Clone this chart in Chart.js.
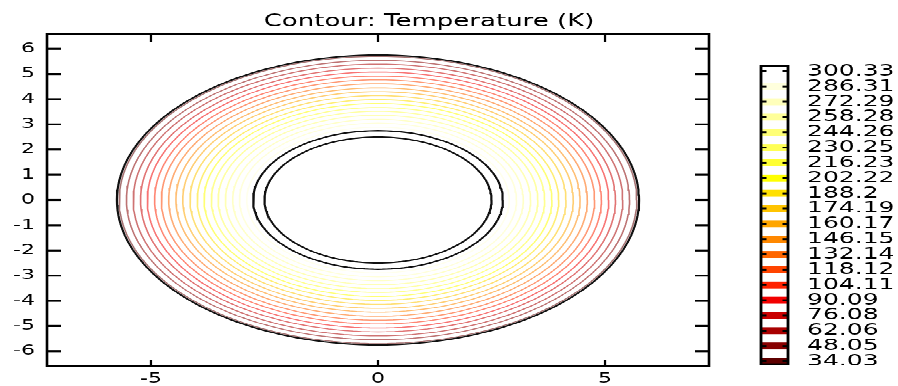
<!DOCTYPE html>
<html><head><meta charset="utf-8">
<script src="https://cdn.jsdelivr.net/npm/chart.js@4.4.1/dist/chart.umd.min.js"></script>
<style>
html,body{margin:0;padding:0;background:#fff;overflow:hidden;}
#wrap{position:relative;width:898px;height:603px;transform:scaleY(0.64);transform-origin:0 0;}
#main{position:absolute;left:0;top:0;}
#cbar{position:absolute;left:740px;top:0;}
</style></head><body>
<div id="wrap"><canvas id="main" width="858" height="603"></canvas><canvas id="cbar" width="158" height="603"></canvas></div>
<script>
// ---- data ----
const chartTitle = 'Contour: Temperature (K)';
const xTicks = [-5, 0, 5];
const yTicks = [-6, -5, -4, -3, -2, -1, 0, 1, 2, 3, 4, 5, 6];
const xRange = [-7.29, 7.29];
const yRange = [-6.59, 6.59];
// contour levels (K), also the colour-bar tick labels
const levels = [34.03, 48.05, 62.06, 76.08, 90.09, 104.11, 118.12, 132.14, 146.15, 160.17,
                174.19, 188.2, 202.22, 216.23, 230.25, 244.26, 258.28, 272.29, 286.31, 300.33];
const levelColors = ['#5e0000', '#870000', '#a80000', '#c90000', '#f20000', '#ff2200', '#ff4400', '#ff6600', '#ff8800', '#ffa600',
                     '#ffc400', '#ffe000', '#ffff00', '#ffff33', '#ffff55', '#ffff77', '#ffff99', '#ffffbb', '#ffffdd', '#ffffff'];
// radius (plot units) at which each level's contour circle lies
const contourRadii = [5.70, 5.54, 5.39, 5.23, 5.08, 4.92, 4.77, 4.61, 4.45, 4.30,
                      4.14, 3.98, 3.83, 3.67, 3.52, 3.36, 3.20, 3.05, 2.89, 2.80];
// black mesh boundary circles
const boundaryRadii = [2.50, 2.75, 5.75];

// ---- helpers ----
const STEP_DEG = 2;
function circle(r) {
  const pts = [];
  for (let a = 0; a <= 360; a += STEP_DEG) {
    const t = a * Math.PI / 180;
    pts.push({x: r * Math.cos(t), y: r * Math.sin(t)});
  }
  return pts;
}
const FONT = 'DejaVu Sans';
// frame round the plot area + inward tick marks placed with the chart's own scales
function makeFrame(cfg) {
  return {
    id: 'frame' + cfg.name,
    afterDraw(chart) {
      const a = chart.chartArea, ctx = chart.ctx;
      ctx.save();
      ctx.setLineDash([]);
      ctx.globalAlpha = 1;
      ctx.fillStyle = '#000';
      if (cfg.yValues) {
        const ys = chart.scales.y, tw = cfg.yTickW;
        for (const v of cfg.yValues) {
          const p = ys.getPixelForValue(v);
          ctx.fillRect(a.left, p - tw / 2, cfg.yLen, tw);
          ctx.fillRect(a.right - cfg.yLen, p - tw / 2, cfg.yLen, tw);
        }
      }
      if (cfg.xValues) {
        const xs = chart.scales.x, tw = cfg.xTickW;
        for (const v of cfg.xValues) {
          const p = xs.getPixelForValue(v);
          ctx.fillRect(p - tw / 2, a.top, tw, cfg.xTopLen);
          ctx.fillRect(p - tw / 2, a.bottom - cfg.xBotLen, tw, cfg.xBotLen);
        }
      }
      ctx.strokeStyle = '#000';
      ctx.lineWidth = cfg.width;
      ctx.strokeRect(a.left, a.top, a.right - a.left, a.bottom - a.top);
      if (cfg.title) {
        ctx.font = cfg.titleFont;
        ctx.textAlign = 'center';
        ctx.textBaseline = 'alphabetic';
        ctx.fillText(cfg.title, cfg.titleX, cfg.titleY);
      }
      ctx.restore();
    }
  };
}

const datasets = [];
boundaryRadii.forEach(r => {
  datasets.push({
    label: 'boundary',
    data: circle(r),
    borderColor: '#111',
    borderWidth: 2.2,
    showLine: true, pointRadius: 0, tension: 0, fill: false
  });
});
levels.forEach((lv, i) => {
  datasets.push({
    label: String(lv),
    data: circle(contourRadii[i]),
    borderColor: levelColors[i] + '8c',
    borderWidth: 1.6,
    showLine: true, pointRadius: 0, tension: 0, fill: false
  });
});

new Chart(document.getElementById('main'), {
  type: 'scatter',
  data: {datasets},
  plugins: [makeFrame({name: 'Main', width: 2.6, yTickW: 3.2, xTickW: 2.2, yValues: yTicks, yLen: 14,
                       xValues: xTicks, xTopLen: 12.5, xBotLen: 10,
                       title: chartTitle, titleFont: '26px "DejaVu Sans"', titleX: 429, titleY: 40.5})],
  options: {
    responsive: false, animation: false, devicePixelRatio: 1,
    layout: {padding: {left: 0, right: 149, top: 53, bottom: 0}},
    plugins: {legend: {display: false}, tooltip: {enabled: false}, title: {display: false}},
    scales: {
      x: {
        type: 'linear', min: xRange[0], max: xRange[1],
        afterBuildTicks: s => { s.ticks = xTicks.map(v => ({value: v})); },
        afterFit: s => { s.height = 31; },
        grid: {display: false, drawTicks: false},
        border: {display: false},
        ticks: {color: '#000', font: {family: FONT, size: 22}, padding: 7, maxRotation: 0, autoSkip: false}
      },
      y: {
        type: 'linear', min: yRange[0], max: yRange[1],
        afterBuildTicks: s => { s.ticks = yTicks.map(v => ({value: v})); },
        afterFit: s => { s.width = 47; },
        grid: {display: false, drawTicks: false},
        border: {display: false},
        ticks: {color: '#000', font: {family: FONT, size: 22}, padding: 12, autoSkip: false}
      }
    }
  }
});

// ---- colour bar ----
const BAND = 3.0; // half height of each colour swatch, in K
new Chart(document.getElementById('cbar'), {
  type: 'bar',
  data: {
    labels: [''],
    datasets: levels.map((lv, i) => ({
      label: String(lv),
      data: [[lv - BAND, lv + BAND]],
      backgroundColor: levelColors[i],
      borderWidth: 0, grouped: false, barPercentage: 1, categoryPercentage: 1
    }))
  },
  plugins: [makeFrame({name: 'Bar', width: 2.8, yTickW: 3, yValues: levels, yLen: 5.5})],
  options: {
    responsive: false, animation: false, devicePixelRatio: 1,
    layout: {padding: {left: 21, right: 0, top: 103, bottom: 34}},
    plugins: {legend: {display: false}, tooltip: {enabled: false}},
    scales: {
      x: {display: false},
      y: {
        type: 'linear', position: 'right', min: 31.39, max: 305.21,
        afterBuildTicks: s => { s.ticks = levels.map(v => ({value: v})); },
        afterFit: s => { s.width = 110; },
        grid: {display: false, drawTicks: false},
        border: {display: false},
        ticks: {color: '#000', font: {family: FONT, size: 25}, padding: 19, autoSkip: false,
                callback: v => String(v)}
      }
    }
  }
});
</script>
</body></html>
